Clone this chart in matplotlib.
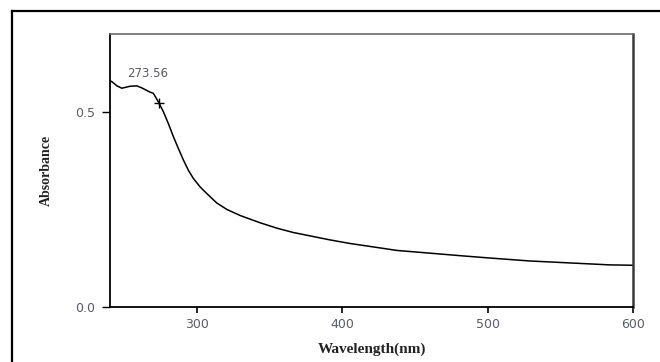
import numpy as np
import matplotlib.pyplot as plt
from matplotlib.lines import Line2D

# UV-Vis absorbance spectrum
wavelength = [240, 241.2, 244.8, 248.1, 253.8, 258.4, 261.8, 267.5, 269.8,
              273.3, 276.7, 280.1, 283.6, 287.0, 290.5, 293.9, 297.3, 302.0,
              306.6, 313.4, 320.5, 330.0, 343.3, 355.0, 366.2, 391.5, 405.0,
              437.6, 483.0, 500.0, 529.0, 584.0, 600.0]
absorbance = [0.580, 0.578, 0.567, 0.561, 0.566, 0.567, 0.562, 0.551, 0.548,
              0.526, 0.501, 0.471, 0.437, 0.407, 0.377, 0.351, 0.330, 0.308,
              0.291, 0.267, 0.250, 0.234, 0.216, 0.202, 0.191, 0.172, 0.163,
              0.145, 0.131, 0.126, 0.118, 0.108, 0.107]

peak_wl = 273.56
peak_label = "273.56"

x_ticks = [300, 400, 500, 600]
y_ticks = [0.0, 0.5]
y_ticklabels = ["0.0", "0.5"]

tick_color = "#5b5b66"

fig = plt.figure(figsize=(6.6, 3.62), dpi=100)
ax = fig.add_axes([110 / 660, 55 / 362, 523 / 660, 273 / 362])

ax.plot(wavelength, absorbance, color="black", lw=1.1)

peak_abs = np.interp(peak_wl, wavelength, absorbance)
ax.plot([peak_wl], [peak_abs], marker="+", color="black", ms=7, mew=1.0)
ax.annotate(peak_label, xy=(peak_wl, peak_abs), xytext=(-8, 16),
            textcoords="offset points", ha="center", va="bottom",
            fontsize=8.5, color=tick_color, family="DejaVu Sans")

ax.set_xlim(240, 600)
ax.set_ylim(0, 0.7)
ax.set_xticks(x_ticks)
ax.set_yticks(y_ticks)
ax.set_yticklabels(y_ticklabels)

ax.tick_params(axis="x", direction="out", length=4, width=1.2, pad=4,
               labelsize=9, labelcolor=tick_color)
ax.tick_params(axis="y", direction="out", length=6, width=1.0, pad=5,
               labelsize=9, labelcolor=tick_color)

ax.spines["left"].set_linewidth(1.3)
ax.spines["bottom"].set_linewidth(1.3)
ax.spines["top"].set_color("#6a6a6a")
ax.spines["top"].set_linewidth(1.2)
ax.spines["right"].set_color("#3a3a3a")
ax.spines["right"].set_linewidth(1.8)

ax.set_xlabel("Wavelength(nm)", family="Liberation Serif", fontsize=11,
              fontweight="bold", color="#222222", labelpad=8)
ax.set_ylabel("Absorbance", family="Liberation Serif", fontsize=10,
              fontweight="bold", color="#222222", labelpad=16)

# outer frame: left and top edges only
fig.add_artist(Line2D([11.5 / 660, 11.5 / 660], [0, 1 - 10.5 / 362],
                      transform=fig.transFigure, color="black", lw=1.6))
fig.add_artist(Line2D([11.5 / 660, 1], [1 - 10.5 / 362, 1 - 10.5 / 362],
                      transform=fig.transFigure, color="black", lw=1.6))

fig.savefig("out.png", dpi=100)
